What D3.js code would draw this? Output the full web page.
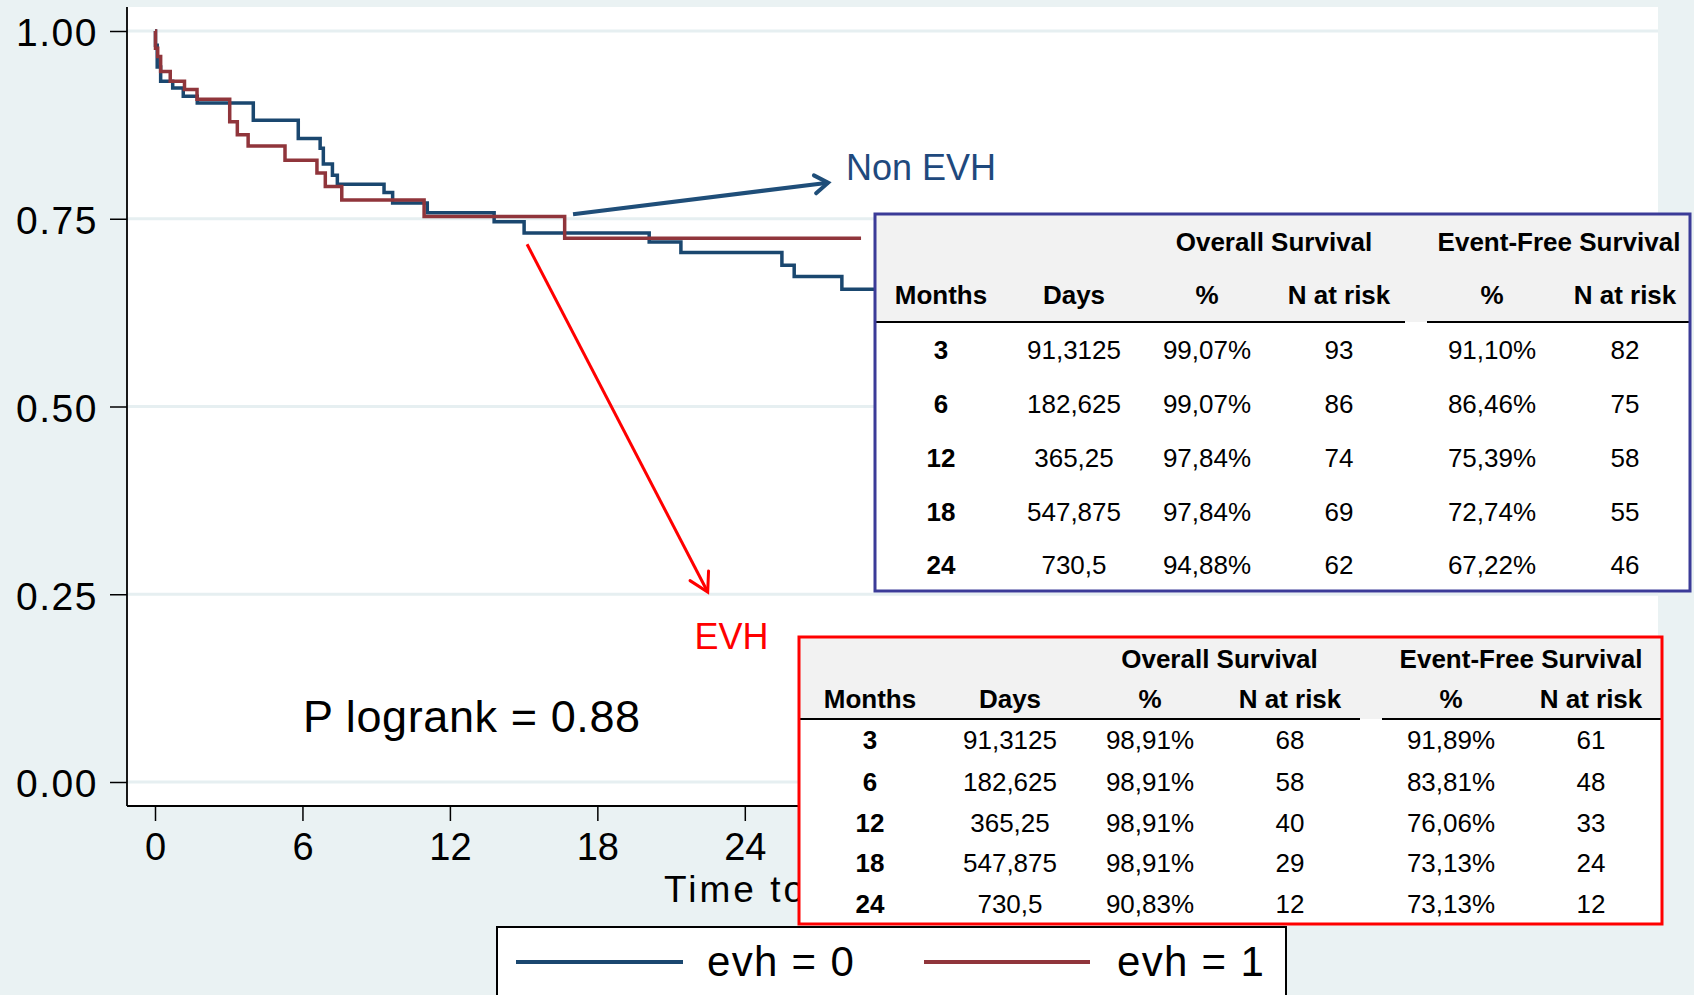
<!DOCTYPE html>
<html><head><meta charset="utf-8">
<script src="https://cdn.jsdelivr.net/npm/d3@7"></script>
<style>
body{margin:0;background:#eaf2f3;}
svg{display:block;font-family:"Liberation Sans",Arial,Helvetica,sans-serif;}
</style>
</head><body>
<svg id="chart" width="1694" height="995"></svg>
<script>
// ---------------- DATA ----------------
const yTicks = [0, 0.25, 0.5, 0.75, 1];
const yTickLabels = ["0.00", "0.25", "0.50", "0.75", "1.00"];
const xTicks = [0, 6, 12, 18, 24];
const xTickLabels = ["0", "6", "12", "18", "24"];
const xAxisTitle = "Time to";   // the rest of the title is hidden behind the EVH table

// Kaplan-Meier steps (months, survival)
const evh0Time = [0, 0.02, 0.09, 0.23, 0.72, 1.15, 1.72, 4.00, 5.83, 6.72, 6.85, 7.22, 7.42, 9.32, 9.67, 11.08, 13.80, 15.02, 20.11, 21.40, 25.51, 26.01, 27.95, 32.0];
const evh0Surv = [1, 0.981, 0.952, 0.933, 0.924, 0.913, 0.904, 0.881, 0.857, 0.844, 0.823, 0.808, 0.796, 0.785, 0.771, 0.758, 0.746, 0.731, 0.719, 0.705, 0.688, 0.673, 0.656, 0.656];
const evh1Time = [0, 0.02, 0.11, 0.23, 0.62, 1.20, 1.71, 3.04, 3.35, 3.79, 5.29, 6.59, 6.93, 7.60, 10.95, 16.67, 28.73];
const evh1Surv = [1, 0.977, 0.966, 0.946, 0.933, 0.922, 0.909, 0.879, 0.862, 0.847, 0.828, 0.811, 0.793, 0.775, 0.753, 0.724, 0.724];
const seriesNames = ["evh = 0", "evh = 1"];

const pLogrankText = "P logrank = 0.88";
const nonEvhLabel = "Non EVH";
const evhLabel = "EVH";

// tables
const groupHeaders = ["Overall Survival", "Event-Free Survival"];
const colHeaders = ["Months", "Days", "%", "N at risk", "%", "N at risk"];
const tableMonths = ["3", "6", "12", "18", "24"];
const tableDays = ["91,3125", "182,625", "365,25", "547,875", "730,5"];
const nonEvhOS = ["99,07%", "99,07%", "97,84%", "97,84%", "94,88%"];
const nonEvhOSRisk = ["93", "86", "74", "69", "62"];
const nonEvhEFS = ["91,10%", "86,46%", "75,39%", "72,74%", "67,22%"];
const nonEvhEFSRisk = ["82", "75", "58", "55", "46"];
const evhOS = ["98,91%", "98,91%", "98,91%", "98,91%", "90,83%"];
const evhOSRisk = ["68", "58", "40", "29", "12"];
const evhEFS = ["91,89%", "83,81%", "76,06%", "73,13%", "73,13%"];
const evhEFSRisk = ["61", "48", "33", "24", "12"];

// ---------------- STYLE / LAYOUT ----------------
const bg = "#eaf2f3", gridCol = "#e6eff1";
const blue = "#1a476f", maroon = "#90353b";
const svg = d3.select("#chart");

const plot = {left: 127, top: 7, right: 1658, bottom: 806};
const x = d3.scaleLinear().domain([0, 24]).range([155, 744.8]);
const y = d3.scaleLinear().domain([0, 1]).range([782, 31]);

svg.append("defs").append("clipPath").attr("id", "titleClip")
  .append("rect").attr("x", 0).attr("y", 0).attr("width", 799).attr("height", 995);

svg.append("rect").attr("width", 1694).attr("height", 995).attr("fill", bg);
svg.append("rect").attr("x", plot.left).attr("y", plot.top)
  .attr("width", plot.right - plot.left).attr("height", plot.bottom - plot.top).attr("fill", "#fff");

// gridlines
svg.append("g").selectAll("line").data(yTicks).join("line")
  .attr("x1", plot.left + 1).attr("x2", plot.right)
  .attr("y1", d => y(d)).attr("y2", d => y(d))
  .attr("stroke", gridCol).attr("stroke-width", 3);

// y axis
const yAxis = svg.append("g").attr("transform", `translate(${plot.left},0)`)
  .call(d3.axisLeft(y).tickValues(yTicks).tickFormat((d, i) => yTickLabels[i]).tickSize(17).tickPadding(12).tickSizeOuter(0));
yAxis.select(".domain").remove();
yAxis.selectAll(".tick line").attr("stroke", "#000").attr("stroke-width", 1.5);
yAxis.selectAll(".tick text").attr("font-size", 39).attr("letter-spacing", "1.5px")
  .attr("dy", "0.38em").attr("fill", "#000").attr("font-family", "Liberation Sans, Arial, sans-serif");
svg.append("line").attr("x1", plot.left).attr("x2", plot.left).attr("y1", plot.top).attr("y2", plot.bottom)
  .attr("stroke", "#000").attr("stroke-width", 1.8);

// x axis
const xAxis = svg.append("g").attr("transform", `translate(0,${plot.bottom})`)
  .call(d3.axisBottom(x).tickValues(xTicks).tickFormat((d, i) => xTickLabels[i]).tickSize(15).tickSizeOuter(0));
xAxis.select(".domain").remove();
xAxis.selectAll(".tick line").attr("stroke", "#000").attr("stroke-width", 1.5);
xAxis.selectAll(".tick text").attr("font-size", 38).attr("y", 54).attr("dy", 0)
  .attr("fill", "#000").attr("font-family", "Liberation Sans, Arial, sans-serif");
svg.append("line").attr("x1", plot.left).attr("x2", plot.right).attr("y1", plot.bottom).attr("y2", plot.bottom)
  .attr("stroke", "#000").attr("stroke-width", 1.8);
svg.append("text").attr("x", 664).attr("y", 902).attr("font-size", 37).attr("letter-spacing", "3px")
  .attr("clip-path", "url(#titleClip)").text(xAxisTitle);

// KM curves
const line = d3.line().x(d => x(d[0])).y(d => y(d[1])).curve(d3.curveStepAfter);
const s0 = evh0Time.map((t, i) => [t, evh0Surv[i]]);
const s1 = evh1Time.map((t, i) => [t, evh1Surv[i]]);
svg.append("path").attr("d", line(s0)).attr("fill", "none").attr("stroke", blue).attr("stroke-width", 3.5);
svg.append("path").attr("d", line(s1)).attr("fill", "none").attr("stroke", maroon).attr("stroke-width", 3.5);

// annotations (data coordinates)
function arrow(from, to, color, width, armLen, armAng) {
  const x1 = x(from[0]), y1 = y(from[1]), x2 = x(to[0]), y2 = y(to[1]);
  const a = Math.atan2(y1 - y2, x1 - x2);
  const p1 = [x2 + armLen * Math.cos(a + armAng), y2 + armLen * Math.sin(a + armAng)];
  const p2 = [x2 + armLen * Math.cos(a - armAng), y2 + armLen * Math.sin(a - armAng)];
  svg.append("line").attr("x1", x1).attr("y1", y1).attr("x2", x2).attr("y2", y2)
    .attr("stroke", color).attr("stroke-width", width);
  svg.append("path").attr("d", `M${p1[0]},${p1[1]}L${x2},${y2}L${p2[0]},${p2[1]}`)
    .attr("fill", "none").attr("stroke", color).attr("stroke-width", width)
    .attr("stroke-linejoin", "miter").attr("stroke-linecap", "round");
}
arrow([17.01, 0.756], [27.39, 0.798], "#1f4e79", 4, 16, 0.6);
arrow([15.14, 0.716], [22.49, 0.253], "#ff0000", 3, 21, 0.52);
svg.append("text").attr("x", x(28.12)).attr("y", y(0.801)).attr("font-size", 36).attr("fill", "#1f497d").text(nonEvhLabel);
svg.append("text").attr("x", x(21.95)).attr("y", y(0.1767)).attr("font-size", 36).attr("fill", "#ff0000").text(evhLabel);
svg.append("text").attr("x", x(6.02)).attr("y", y(0.067)).attr("font-size", 45).attr("letter-spacing", "0.6px")
  .attr("fill", "#000").text(pLogrankText);

// legend
const leg = svg.append("g");
leg.append("rect").attr("x", 497).attr("y", 927).attr("width", 789).attr("height", 90)
  .attr("fill", "#fff").attr("stroke", "#000").attr("stroke-width", 2);
const legItems = [{x1: 516, x2: 683, tx: 707, c: blue}, {x1: 924, x2: 1090, tx: 1117, c: maroon}];
legItems.forEach((it, i) => {
  leg.append("line").attr("x1", it.x1).attr("x2", it.x2).attr("y1", 962).attr("y2", 962)
    .attr("stroke", it.c).attr("stroke-width", 4);
  leg.append("text").attr("x", it.tx).attr("y", 976).attr("font-size", 42).attr("letter-spacing", "1.3px")
    .text(seriesNames[i]);
});

// tables
function drawTable(cfg, cols) {
  const g = svg.append("g");
  g.append("rect").attr("x", cfg.x0).attr("y", cfg.y0).attr("width", cfg.x1 - cfg.x0).attr("height", cfg.hy - cfg.y0)
    .attr("fill", "#f2f2f2");
  g.append("rect").attr("x", cfg.x0).attr("y", cfg.hy).attr("width", cfg.x1 - cfg.x0).attr("height", cfg.y1 - cfg.hy)
    .attr("fill", "#fff");
  g.append("line").attr("x1", cfg.x0).attr("x2", cfg.g0).attr("y1", cfg.hy).attr("y2", cfg.hy).attr("stroke", "#000").attr("stroke-width", 2);
  g.append("line").attr("x1", cfg.g1).attr("x2", cfg.x1).attr("y1", cfg.hy).attr("y2", cfg.hy).attr("stroke", "#000").attr("stroke-width", 2);
  groupHeaders.forEach((h, i) => g.append("text").attr("x", cfg.gc[i]).attr("y", cfg.gb)
    .attr("text-anchor", "middle").attr("font-size", 26).attr("font-weight", "bold").text(h));
  colHeaders.forEach((h, i) => g.append("text").attr("x", cfg.cx[i]).attr("y", cfg.sb)
    .attr("text-anchor", "middle").attr("font-size", 26).attr("font-weight", "bold").text(h));
  cols.forEach((col, ci) => col.forEach((v, ri) => g.append("text").attr("x", cfg.cx[ci]).attr("y", cfg.rb[ri])
    .attr("text-anchor", "middle").attr("font-size", 26).attr("font-weight", ci === 0 ? "bold" : "normal").text(v)));
  g.append("rect").attr("x", cfg.x0).attr("y", cfg.y0).attr("width", cfg.x1 - cfg.x0).attr("height", cfg.y1 - cfg.y0)
    .attr("fill", "none").attr("stroke", cfg.border).attr("stroke-width", 3);
}
drawTable({x0: 875, x1: 1690, y0: 214, y1: 591, hy: 322, g0: 1405, g1: 1427,
  gc: [1274, 1559], gb: 251, sb: 304, cx: [941, 1074, 1207, 1339, 1492, 1625],
  rb: [359, 413, 467, 521, 574], border: "#3b3b98"},
  [tableMonths, tableDays, nonEvhOS, nonEvhOSRisk, nonEvhEFS, nonEvhEFSRisk]);
drawTable({x0: 799, x1: 1662, y0: 637, y1: 924, hy: 719, g0: 1360, g1: 1382,
  gc: [1219.5, 1521], gb: 668, sb: 708, cx: [870, 1010, 1150, 1290, 1451, 1591],
  rb: [749, 791, 832, 872, 913], border: "#ff0000"},
  [tableMonths, tableDays, evhOS, evhOSRisk, evhEFS, evhEFSRisk]);
</script>
</body></html>
